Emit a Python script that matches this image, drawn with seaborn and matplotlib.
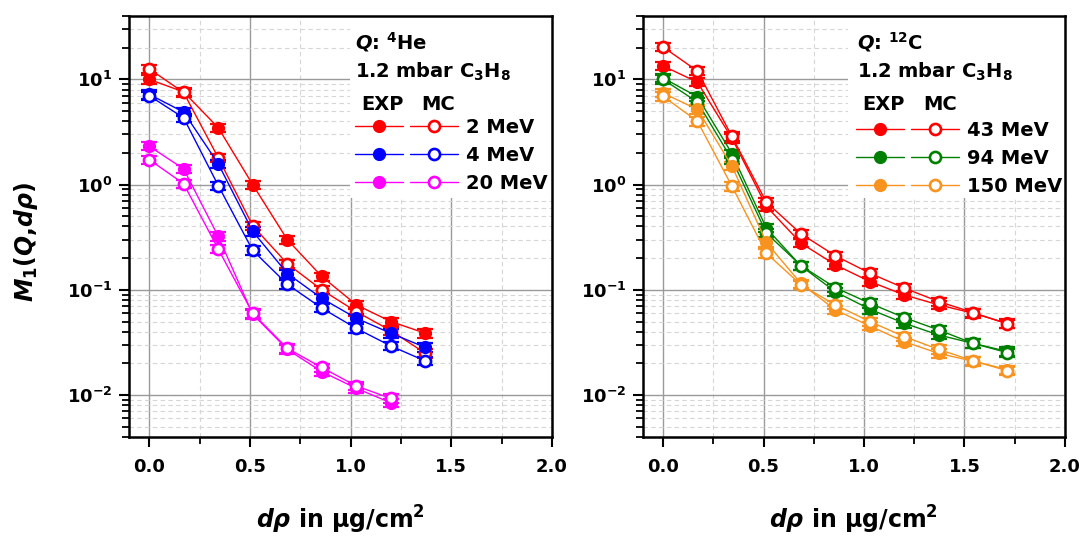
import numpy as np
import pandas as pd
import matplotlib
matplotlib.use("Agg")
import matplotlib.pyplot as plt
import seaborn as sns
from matplotlib.ticker import MultipleLocator, LogLocator, NullFormatter, FuncFormatter
from matplotlib.lines import Line2D
from matplotlib.patches import Rectangle

# ---------------- data ----------------
d_rho = [0.0, 0.171, 0.343, 0.514, 0.686, 0.857, 1.029, 1.2, 1.371, 1.543, 1.714]

# left panel: 4He
he_labels = ["2 MeV", "4 MeV", "20 MeV"]
he_colors = ["#FF0000", "#0000FF", "#FF00FF"]
he2_exp = [10.0, 7.6, 3.47, 1.0, 0.30, 0.134, 0.072, 0.050, 0.0387]
he2_mc = [12.6, 7.5, 1.80, 0.407, 0.177, 0.100, 0.062, 0.041, 0.025]
he4_exp = [7.2, 4.89, 1.58, 0.36, 0.143, 0.083, 0.0537, 0.0387, 0.0284]
he4_mc = [7.0, 4.31, 0.98, 0.237, 0.113, 0.067, 0.043, 0.0293, 0.0211]
he20_exp = [2.32, 1.41, 0.322, 0.0586, 0.0272, 0.0167, 0.0116, 0.00845]
he20_mc = [1.73, 1.02, 0.244, 0.060, 0.0278, 0.0183, 0.0122, 0.0093]

# right panel: 12C
c_labels = ["43 MeV", "94 MeV", "150 MeV"]
c_colors = ["#FF0000", "#008000", "#F7931E"]
c43_exp = [13.4, 9.4, 2.75, 0.622, 0.278, 0.173, 0.120, 0.0896, 0.072, 0.060, 0.048]
c43_mc = [20.3, 12.0, 2.87, 0.68, 0.341, 0.211, 0.144, 0.104, 0.0775, 0.0608, 0.0474]
c94_exp = [10.3, 6.84, 1.97, 0.386, 0.169, 0.096, 0.0655, 0.0482, 0.0373, 0.031, 0.026]
c94_mc = [10.0, 6.08, 1.73, 0.347, 0.170, 0.105, 0.0746, 0.0545, 0.0416, 0.031, 0.0253]
c150_exp = [7.4, 5.18, 1.50, 0.282, 0.115, 0.0645, 0.0454, 0.0322, 0.0249, 0.021, 0.0175]
c150_mc = [6.9, 4.0, 0.964, 0.223, 0.112, 0.072, 0.050, 0.036, 0.0272, 0.0212, 0.017]

REL_ERR = 0.09  # relative uncertainty shown by the error bars

x_ticks = [0.0, 0.5, 1.0, 1.5, 2.0]

# ---------------- style ----------------
sns.set_style("ticks")
plt.rcParams["font.family"] = ["DejaVu Sans"]
plt.rcParams["font.weight"] = "bold"
plt.rcParams["mathtext.fontset"] = "custom"
plt.rcParams["mathtext.rm"] = "DejaVu Sans:bold"
plt.rcParams["mathtext.bf"] = "DejaVu Sans:bold"
plt.rcParams["mathtext.it"] = "DejaVu Sans:bold:italic"
plt.rcParams["axes.unicode_minus"] = False
for key in ["text.color", "axes.labelcolor", "xtick.color", "ytick.color",
            "xtick.labelcolor", "ytick.labelcolor"]:
    plt.rcParams[key] = "black"

fig = plt.figure(figsize=(10.87, 5.47), dpi=100)
ax1 = fig.add_axes([0.1187, 0.2011, 0.3891, 0.7697])
ax2 = fig.add_axes([0.5915, 0.2011, 0.3882, 0.7697])


def draw_series(ax, y, color, filled):
    xs = d_rho[:len(y)]
    ys = np.array(y)
    ax.errorbar(xs, ys, yerr=ys * REL_ERR, fmt="none", ecolor=color,
                elinewidth=1.0, capsize=6, capthick=1.6, zorder=1.9)
    df = pd.DataFrame({"x": xs, "y": ys})
    sns.lineplot(data=df, x="x", y="y", ax=ax, color=color, lw=1.0,
                 marker="o", markersize=8.5 if filled else 8,
                 markerfacecolor=color if filled else "white",
                 markeredgecolor=color, markeredgewidth=1.0 if filled else 1.9,
                 estimator=None, sort=False, legend=False, zorder=2)


def log_fmt(v, pos):
    e = int(np.round(np.log10(v)))
    return r"$\mathbf{10^{%d}}$" % e


def style_axes(ax):
    ax.set_yscale("log")
    ax.set_xlim(-0.1, 2.0)
    ax.set_ylim(0.004, 40)
    ax.set_xticks(x_ticks)
    ax.set_xticklabels([f"{t:.1f}" for t in x_ticks])
    ax.xaxis.set_minor_locator(MultipleLocator(0.25))
    ax.yaxis.set_major_locator(LogLocator(base=10, numticks=10))
    ax.yaxis.set_minor_locator(LogLocator(base=10, subs=np.arange(2, 10), numticks=20))
    ax.yaxis.set_major_formatter(FuncFormatter(log_fmt))
    ax.yaxis.set_minor_formatter(NullFormatter())
    ax.set_axisbelow(True)
    ax.grid(True, which="major", color="#9a9a9a", lw=1.0, ls="-")
    ax.grid(True, which="minor", color="#d6d6d6", lw=0.8, ls=(0, (4, 3)))
    for s in ax.spines.values():
        s.set_linewidth(1.8)
        s.set_color("black")
    ax.tick_params(which="major", direction="out", length=7, width=1.5,
                   labelsize=13, top=False, right=False, colors="black")
    ax.tick_params(axis="x", which="major", pad=8)
    ax.tick_params(axis="y", which="major", pad=5)
    ax.tick_params(which="minor", direction="out", length=5, width=1.3,
                   top=False, right=False, colors="black")
    ax.set_xlabel(r"$d\rho$ in μg/cm$^{\mathbf{2}}$", fontsize=17,
                  fontweight="bold", labelpad=20, color="black")
    ax.set_ylabel("")


def add_legend(ax, title, handles_exp, handles_mc, labels,
               box_x, text_x, exp_x, mc_x, leg_x, leg_y):
    ax.add_patch(Rectangle((box_x, 0.568), 1 - box_x, 0.432,
                           transform=ax.transAxes, facecolor="white",
                           edgecolor="none", zorder=1))
    ax.text(text_x, 0.938, title, transform=ax.transAxes, fontsize=14,
            fontweight="bold", va="center", ha="left", color="black")
    ax.text(text_x, 0.867, r"1.2 mbar C$_{\mathbf{3}}$H$_{\mathbf{8}}$",
            transform=ax.transAxes, fontsize=14, fontweight="bold",
            va="center", ha="left", color="black")
    ax.text(exp_x, 0.790, "EXP", transform=ax.transAxes, fontsize=14,
            fontweight="bold", va="center", ha="left", color="black")
    ax.text(mc_x, 0.790, "MC", transform=ax.transAxes, fontsize=14,
            fontweight="bold", va="center", ha="left", color="black")
    leg = ax.legend(handles_exp + handles_mc, [""] * len(labels) + labels,
                    ncol=2, loc="upper left", bbox_to_anchor=(leg_x, leg_y),
                    frameon=False, fontsize=14, handlelength=2.45,
                    handletextpad=0.4, columnspacing=0.0, labelspacing=0.45,
                    borderpad=0.0, borderaxespad=0.0)
    for t in leg.get_texts():
        t.set_fontweight("bold")
        t.set_color("black")


def make_handles(colors, filled):
    hs = []
    for c in colors:
        hs.append(Line2D([], [], color=c, lw=1.0, marker="o",
                         markersize=8.5 if filled else 8,
                         markerfacecolor=c if filled else "white",
                         markeredgecolor=c,
                         markeredgewidth=1.0 if filled else 1.9))
    return hs


# left panel
for y_exp, y_mc, col in zip([he2_exp, he4_exp, he20_exp],
                            [he2_mc, he4_mc, he20_mc], he_colors):
    draw_series(ax1, y_exp, col, True)
    draw_series(ax1, y_mc, col, False)
style_axes(ax1)
ax1.set_ylabel(r"$M_{\mathbf{1}}(Q{,}d\rho)$", fontsize=17, fontweight="bold",
               color="black")
ax1.yaxis.set_label_coords(-0.21, 0.463)
add_legend(ax1, r"$Q$: $^{\mathbf{4}}$He", make_handles(he_colors, True),
           make_handles(he_colors, False), he_labels,
           box_x=0.522, text_x=0.534, exp_x=0.548, mc_x=0.690,
           leg_x=0.534, leg_y=0.757)

# right panel
for y_exp, y_mc, col in zip([c43_exp, c94_exp, c150_exp],
                            [c43_mc, c94_mc, c150_mc], c_colors):
    draw_series(ax2, y_exp, col, True)
    draw_series(ax2, y_mc, col, False)
style_axes(ax2)
add_legend(ax2, r"$Q$: $^{\mathbf{12}}$C", make_handles(c_colors, True),
           make_handles(c_colors, False), c_labels,
           box_x=0.486, text_x=0.507, exp_x=0.519, mc_x=0.664,
           leg_x=0.505, leg_y=0.750)

fig.savefig("out.png", dpi=100, facecolor="white")
